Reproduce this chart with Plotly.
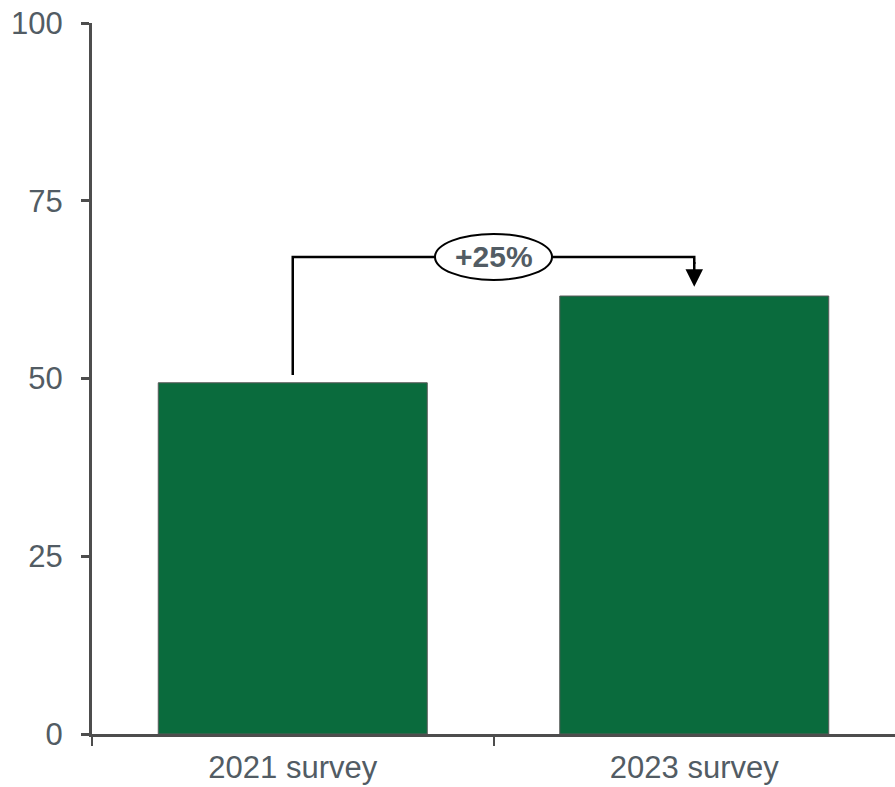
import plotly.graph_objects as go

categories = ["2021 survey", "2023 survey"]
values = [49.4, 61.6]
y_ticks = [0, 25, 50, 75, 100]

bar_color = "#0a6b3d"
axis_color = "#4d4d4d"
text_color = "#525c64"
font_family = "Liberation Sans, Arial, sans-serif"

x_pos = list(range(len(categories)))
boundaries = [i - 0.5 for i in x_pos]
change_pct = round((values[1] / values[0] - 1) * 100)
bracket_top = max(values) + 5.5

fig = go.Figure()
fig.add_trace(go.Bar(
    x=x_pos, y=values, width=0.67,
    marker=dict(color=bar_color, line=dict(color="#5a5a5a", width=1)),
    hoverinfo="skip",
))

# bracket line from bar 1 to above bar 2
fig.add_shape(
    type="path", xref="x", yref="y",
    path=f"M {x_pos[0]},{values[0] + 1.1} L {x_pos[0]},{bracket_top} "
         f"L {x_pos[1]},{bracket_top} L {x_pos[1]},{bracket_top - 1}",
    line=dict(color="black", width=2.5),
)
# arrow down to bar 2
fig.add_annotation(
    x=x_pos[1], y=values[1] + 1.3, ax=x_pos[1], ay=bracket_top - 0.5,
    xref="x", yref="y", axref="x", ayref="y",
    text="", showarrow=True, arrowhead=2, arrowsize=1.4, arrowwidth=2.5,
    arrowcolor="black",
)
mid = (x_pos[0] + x_pos[1]) / 2
# ellipse
fig.add_shape(
    type="circle", xref="x", yref="y",
    xsizemode="pixel", ysizemode="pixel",
    xanchor=mid, yanchor=bracket_top,
    x0=-58.5, x1=58.5, y0=-23, y1=23,
    fillcolor="white", line=dict(color="black", width=2),
)
fig.add_annotation(
    x=mid, y=bracket_top, xref="x", yref="y",
    text=f"<b>+{change_pct}%</b>", showarrow=False,
    font=dict(family=font_family, size=30, color=text_color),
)

fig.update_layout(
    width=895, height=787,
    margin=dict(l=92, r=0, t=23, b=53),
    paper_bgcolor="white", plot_bgcolor="white",
    showlegend=False,
    font=dict(family=font_family, color=text_color, size=31),
)
fig.update_xaxes(
    range=[x_pos[0] - 0.5, x_pos[-1] + 0.5],
    tickvals=x_pos, ticktext=categories, ticks="",
    showline=True, linecolor=axis_color, linewidth=3,
    showgrid=False, zeroline=False,
    ticklabelstandoff=4,
    minor=dict(tickvals=boundaries, ticks="outside", ticklen=9, tickwidth=2,
               tickcolor=axis_color, showgrid=False),
    tickfont=dict(size=31, color=text_color),
)
fig.update_yaxes(
    range=[0, 100], tickvals=y_ticks,
    showline=True, linecolor=axis_color, linewidth=3,
    ticks="outside", ticklen=8, tickwidth=3, tickcolor=axis_color,
    showgrid=False, zeroline=False,
    ticklabelstandoff=12,
    tickfont=dict(size=31, color=text_color),
)

fig.write_html("out.html")
